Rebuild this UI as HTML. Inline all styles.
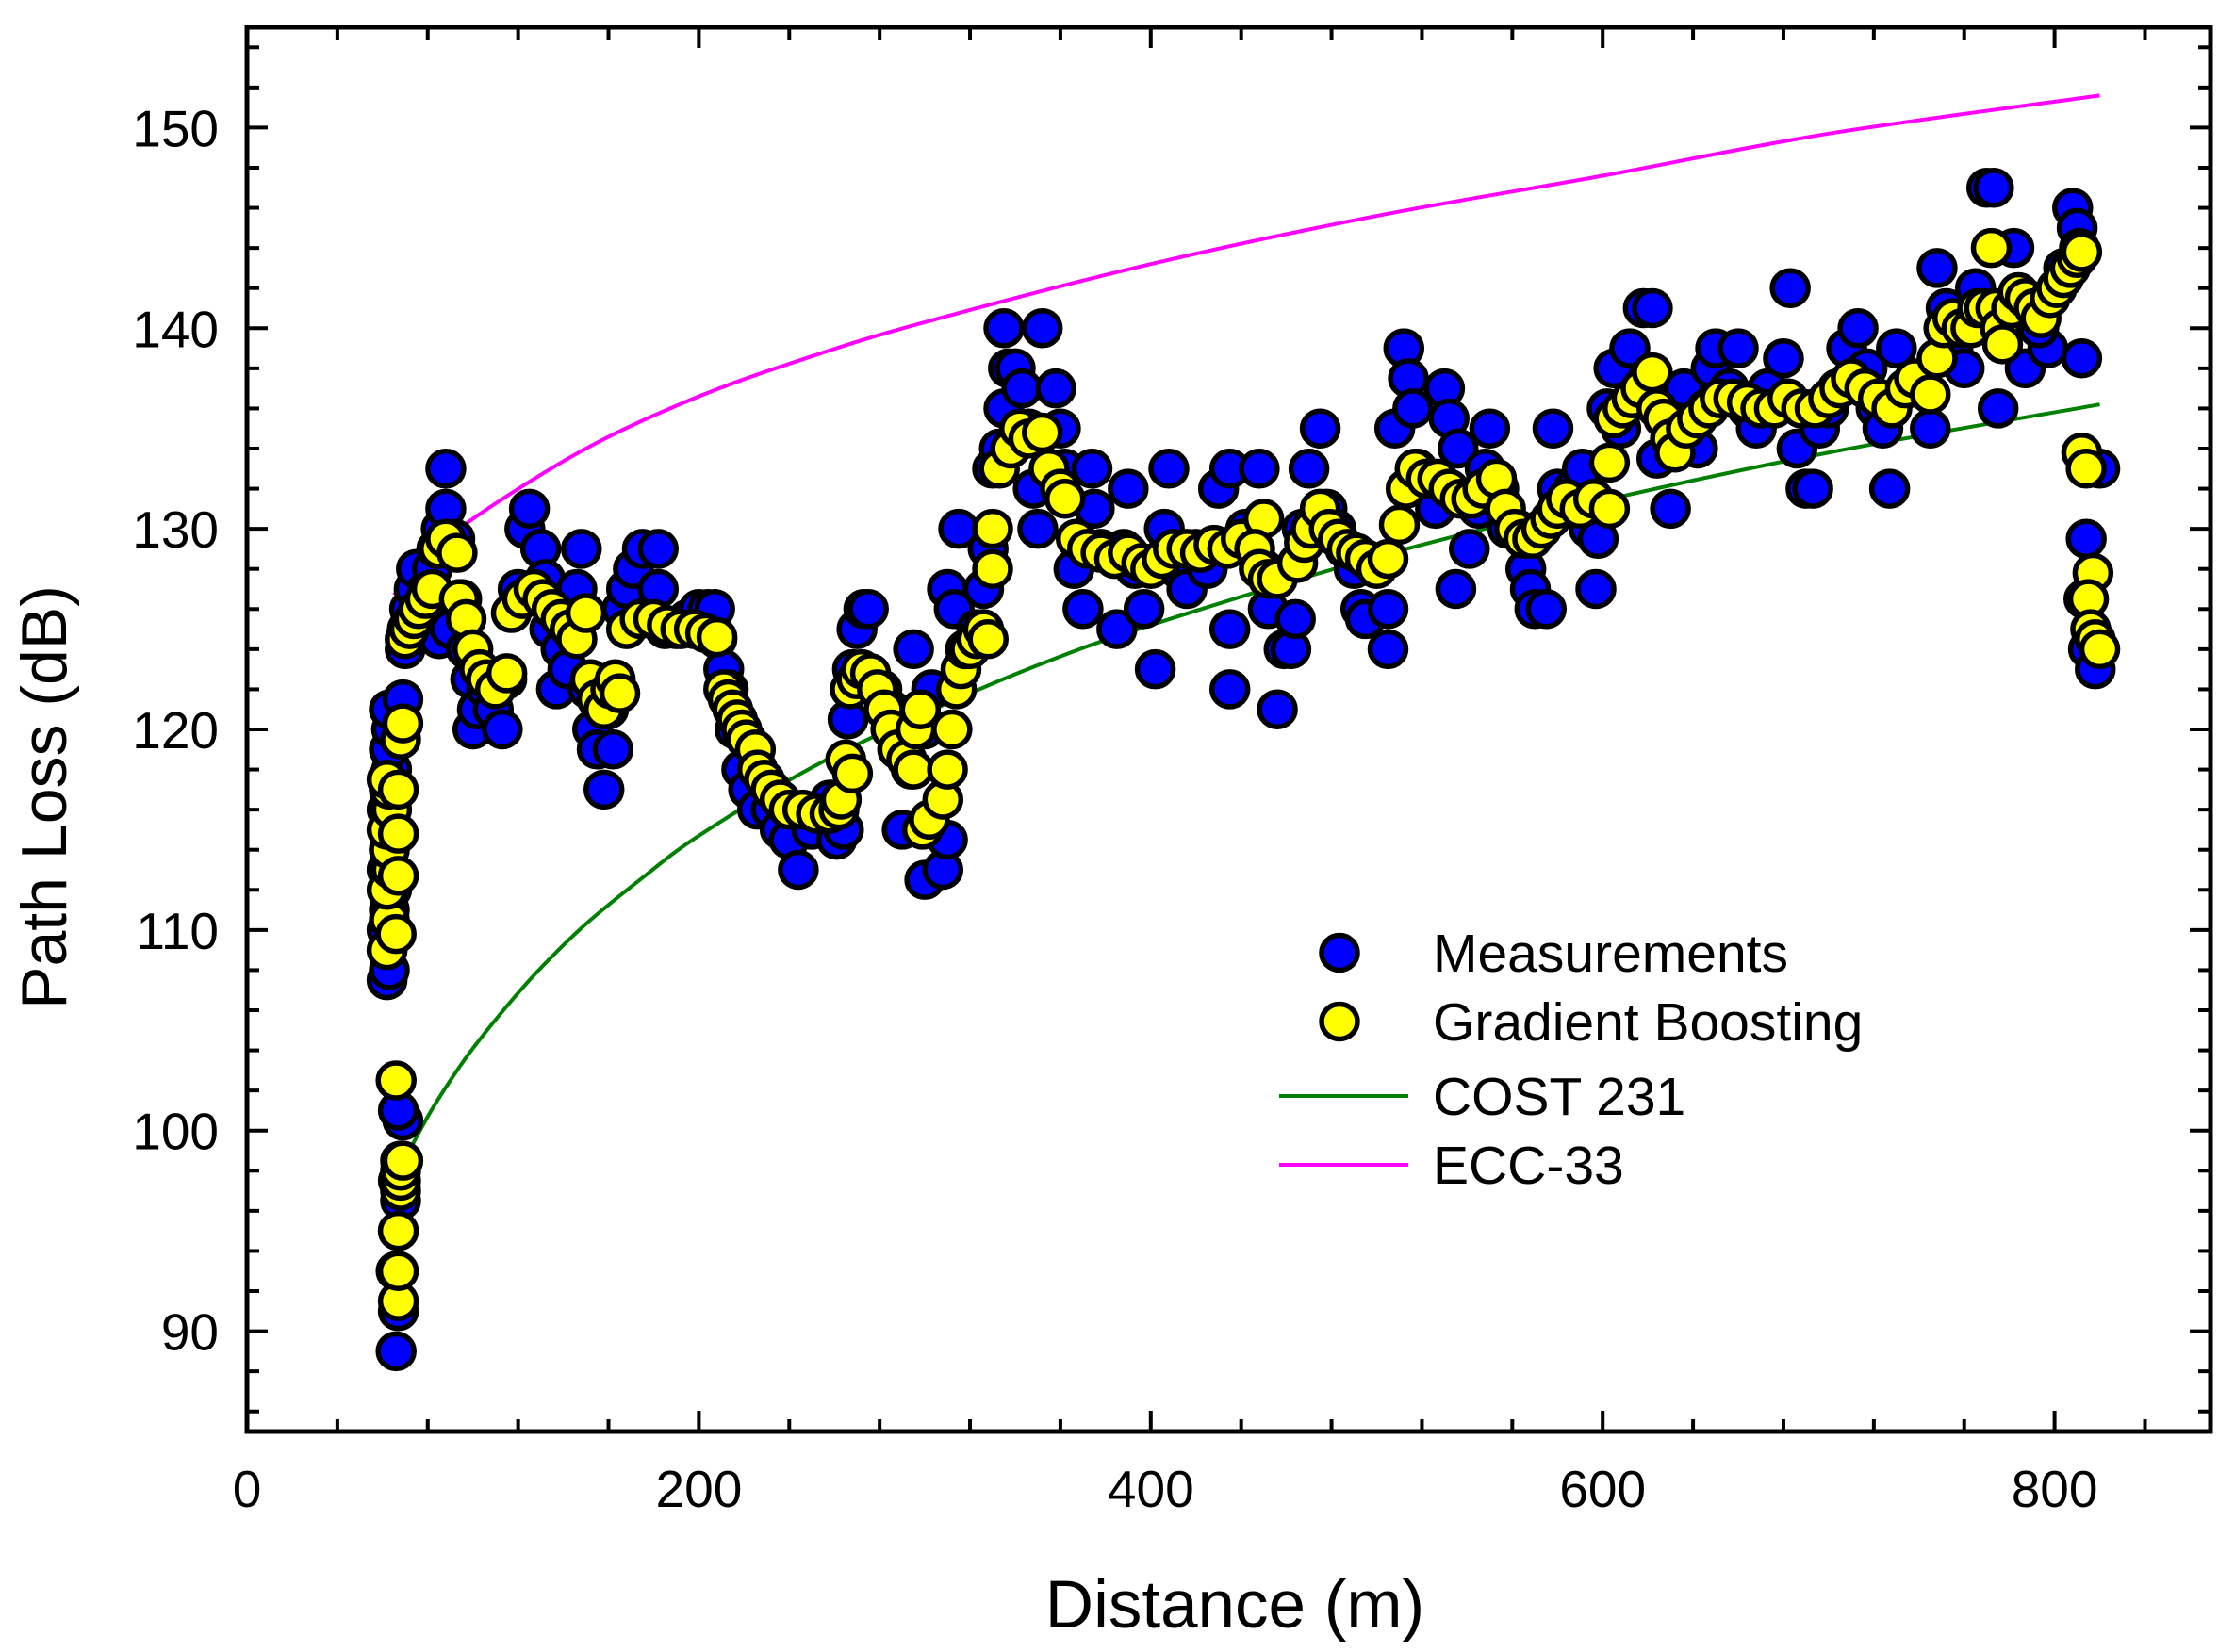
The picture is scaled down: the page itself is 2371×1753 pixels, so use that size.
<!DOCTYPE html>
<html><head><meta charset="utf-8"><style>
html,body{margin:0;padding:0;background:#fff;}
svg{display:block;font-family:"Liberation Sans",Arial,sans-serif;}
</style></head><body>
<svg id="chart" width="2371" height="1753" viewBox="0 0 2371 1753" xmlns="http://www.w3.org/2000/svg">
<rect x="0" y="0" width="2371" height="1753" fill="#fff"/>
<g id="plot"></g>
<g id="axes"></g>
<g id="legend"></g>
</svg>
<script>
const xTicks = [0, 200, 400, 600, 800];
const yTicks = [90, 100, 110, 120, 130, 140, 150];
const meas = [
[62,107.5],[63,108],[62,110],[63,111],[64,112],[62,113],[63,114],[64,115],[62,116],[63,117],[64,118],[63,119],[64,120],[63,121],
[66,89],[67,91],[66,93],[67,95],[68,96.5],[67,97.5],[68,98.5],[69,100.5],[67,101],
[69,121.5],[70,124],[71,125],[72,126],[74,127],[75,128],[78,126],[80,127],[82,128],[84,129],[86,130],[88,131],[88,133],[92,129.5],
[85,124.5],[90,125],[95,126.5],[97,124],[99,122.5],[100,120],[102,121],
[106,122],[109,121],[113,120],[115,122.5],
[120,127],[123,130],[125,131],[130,129],[132,127.5],[134,125],
[137,122],[139,124],[142,123],[144,126.5],[146,127],[148,129],[151,122],[153,120],[155,119],[158,117],[162,119],[160,121],
[166,126],[168,127],[171,128],[175,129],[182,129],[182,127],[185,125],
[190,125],[195,125.5],[200,126],[204,126],[207,126],[208,124.5],
[211,123],[213,122],[216,120],[219,118],[222,117],[226,116],
[232,116],[236,115],[240,114.5],[244,113],[250,115],[255,116],[258,116.5],
[261,114.5],[264,115],[266,120.5],[268,123],[270,125],[273,126],[275,126],
[281,122],[285,121],[288,119],[290,115],[294,118],[300,112.5],[308,113],[310,114.5],
[295,124],[300,120],[303,122],[310,127],[315,130],[313,126],
[320,124],[323,125],[326,127],[328,129],[330,133],
[333,134],[335,136],[337,138],[335,140],[340,138],[343,137],[346,135],[352,140],
[348,132],[350,130],[358,137],[360,135],[362,133],
[366,128],[370,126],[375,131],[374,133],[378,129],
[385,125],[390,132],[388,129],[393,128],[397,126],
[402,123],[408,133],[406,130],[412,128],[416,127],
[420,129],[425,128],[430,132],[435,133],[435,125],[435,122],
[442,130],[448,133],[450,128],[452,126],[456,121],[459,124],
[462,124],[464,125.5],[467,130],[470,133],[475,135],[478,131],
[482,130],[486,129],[490,128],[493,126],[495,125.5],
[505,126],[505,124],[508,135],[512,139],[514,137.5],[516,136],
[518,133],[522,132],[526,131],[530,137],[532,135.5],[536,134],[535,127],
[541,129],[545,131],[548,133],[550,135],[554,132],[558,130],
[562,130],[566,128],[568,127],[570,126],[575,126],[578,135],[580,132],
[583,131],[587,132],[591,133],[594,130],[598,129.5],[597,127],
[602,136],[605,138],[608,135],[612,139],[618,141],[622,141],[620,137],
[624,133.5],[630,131],[632,136],[636,137],[638,135],
[642,134],[646,136],[648,138],[650,139],[660,139],[656,137],
[664,136],[668,135],[673,137],[680,138.5],[683,142],[686,134],[690,132],[693,132],
[696,135],[700,136],[704,137],[708,139],[713,140],[717,138],
[721,136],[724,135],[727,132],[730,139],[735,137],[745,135],[748,143],
[752,141],[755,139],[758,140],[760,138],[765,142],[770,147],[773,147],[775,136],
[782,144],[785,141],[787,138],[797,139],[793,140],
[801,142],[804,143],[808,146],[810,145],[811,144],[812,138.5],[814,129.5],[813,126.5],[815,124],
[820,133],[818,123]
];
const gb = [
[62,109],[63,110.5],[62,112],[64,113],[63,114],[62,115],[64,116],[63,117],[62,117.5],
[67,91.5],[67,93],[67,95],[68,97],[68,97.5],[68,98],[69,98.5],[66,102.5],[66,109.8],[67,112.7],[67,114.8],[67,117],[68,119.5],[69,120.3],
[70,124.5],[72,125],[74,125.5],[76,126],[79,126.5],[82,127],[85,129],[88,129.5],[93,128.8],[94,126.5],[97,125.5],[100,124],
[103,123],[106,122.5],[110,122],[115,122.8],
[117,125.8],[122,126.5],[127,127],[131,126.5],[135,126],[139,125.5],[143,125],[146,124.5],[150,125.8],
[152,122.5],[155,121.5],[158,121],[161,122],[163,122.5],[165,121.8],
[168,125],[174,125.5],[180,125.5],[186,125.2],[192,125],[198,125],[203,124.8],[208,124.6],
[211,122],[213,121.5],[215,121],[217,120.5],[219,120],[221,119.5],[225,119],[226,118],[229,117.5],
[232,117],[236,116.5],[240,116],[246,116],[252,115.8],[258,115.8],[262,116],
[263,116.5],[265,118.5],[268,117.8],[267,122],[270,122.5],[272,123],
[276,122.8],[279,122],[282,121],[285,120],[288,119],[292,118.5],[295,118],[296,120],[298,121],[299,115],[302,115.5],[308,116.5],[310,118],[312,120],[314,122],[316,123],[318,124],
[320,124],[323,124.5],[326,125],[328,124.5],[330,128],[330,130],
[333,133],[338,134],[342,135],[346,134.5],[352,134.8],[355,133],[360,132],[362,131.5],
[367,129.5],[372,129],[378,128.8],[384,128.5],[390,128.8],[396,128.3],[400,128],
[405,128.5],[410,129],[416,129],[422,128.8],[428,129.2],[434,129],[440,129.5],[450,130.5],[446,129],[448,128],
[452,127.5],[456,127.5],[465,128.3],[468,129.3],[471,130],[475,131],
[479,130],[483,129.5],[487,129],[491,128.8],[495,128.5],[500,128],[505,128.5],[510,130.2],
[513,132],[517,133],[522,132.5],[527,132.5],
[532,132],[537,131.5],[542,131.5],[547,132],[553,132.5],[557,131],
[561,130],[565,129.5],[569,129.5],[573,130],[577,130.5],[580,131],
[584,131.5],[590,131],[596,131.5],[603,133.3],[603,131],
[605,135.5],[609,136],[613,136.5],[617,137],[622,137.8],[624,136],
[627,135.5],[630,134.5],[632,133.8],[637,135],[642,135.5],[647,136],
[652,136.5],[658,136.5],[664,136.3],[670,136],[676,136],[682,136.5],[688,136],[694,136],
[700,136.5],[705,137],[710,137.5],[716,137],[722,136.5],[728,136],[734,137],[738,137.5],
[745,136.7],[748,138.5],[751,140],[755,140.5],[759,140],[763,140],[766,141],[769,141],
[772,144],[774,141],[776,140],[777,139.2],[781,141],[784,141.8],[787,141.5],
[791,141],[794,140.5],[798,141.5],[801,142],[804,142.5],[807,143],[810,143.5],[812,143.8],[812,133.8],[814,133],
[817,127.8],[815,126.5],[816,125],[818,124.5],[820,124]
];
const costD = [65, 70, 80, 90, 100, 115, 130, 150, 175, 200, 250, 300, 350, 400, 500, 600, 700, 820];
const costL = [97.5, 98.6, 100.7, 102.5, 104.1, 106.2, 108.1, 110.3, 112.6, 114.7, 118.1, 120.8, 123.2, 125.2, 128.6, 131.4, 133.8, 136.2];
const eccD = [65, 80, 100, 150, 200, 250, 300, 400, 500, 600, 700, 820];
const eccL = [126.7, 128.5, 130.5, 134, 136.6, 138.6, 140.3, 143.2, 145.6, 147.6, 149.7, 151.6];

const NS = "http://www.w3.org/2000/svg";
const L = 262, R = 2345, T = 29, B = 1519;
const xMin = 0, xMax = 869, yMin = 85, yMax = 155;
function sx(v){ return L + (v - xMin) / (xMax - xMin) * (R - L); }
function sy(v){ return B - (v - yMin) / (yMax - yMin) * (B - T); }
function mk(tag, attrs, parent){ const e = document.createElementNS(NS, tag); for (const k in attrs) e.setAttribute(k, attrs[k]); parent.appendChild(e); return e; }

const plot = document.getElementById('plot');
const axes = document.getElementById('axes');
const legend = document.getElementById('legend');

function smoothPath(ds, ls){
  const p = ds.map((d,i)=>[sx(d), sy(ls[i])]);
  let s = 'M' + p[0][0] + ',' + p[0][1];
  for (let i = 0; i < p.length - 1; i++){
    const p0 = p[i-1] || p[i], p1 = p[i], p2 = p[i+1], p3 = p[i+2] || p2;
    const c1 = [p1[0] + (p2[0]-p0[0])/6, p1[1] + (p2[1]-p0[1])/6];
    const c2 = [p2[0] - (p3[0]-p1[0])/6, p2[1] - (p3[1]-p1[1])/6];
    s += 'C' + c1.join(',') + ' ' + c2.join(',') + ' ' + p2.join(',');
  }
  return s;
}

const costLine = mk('path', {d: smoothPath(costD, costL), fill:'none', stroke:'#008000', 'stroke-width':4, 'stroke-linejoin':'round'}, plot);


const eccLine = mk('path', {d: smoothPath(eccD, eccL), fill:'none', stroke:'#ff00ff', 'stroke-width':4, 'stroke-linejoin':'round'}, plot);



meas.forEach(p => {
  const c = mk('ellipse', {cx: sx(p[0]), cy: sy(p[1]), rx: 19, ry: 18.5, fill:'#0000ff', stroke:'#000', 'stroke-width':5.5}, plot);
  
  
});
gb.forEach(p => {
  const c = mk('ellipse', {cx: sx(p[0]), cy: sy(p[1]), rx: 19, ry: 18.5, fill:'#ffff00', stroke:'#000', 'stroke-width':5.5}, plot);
  
  
});

const frame = mk('rect', {x:L, y:T, width:R-L, height:B-T, fill:'none', stroke:'#000', 'stroke-width':5}, axes);



for (let v = 40; v < xMax; v += 40){
  const major = v % 200 === 0;
  const len = major ? 22 : 13;
  const t1 = mk('line', {x1:sx(v), x2:sx(v), y1:B, y2:B-len, stroke:'#000', 'stroke-width':4}, axes);
  
  
  const t2 = mk('line', {x1:sx(v), x2:sx(v), y1:T, y2:T+len, stroke:'#000', 'stroke-width':4}, axes);
  
  
}
for (let v = 86; v < yMax; v += 2){
  const major = v % 10 === 0;
  const len = major ? 22 : 13;
  const t1 = mk('line', {x1:L, x2:L+len, y1:sy(v), y2:sy(v), stroke:'#000', 'stroke-width':4}, axes);
  
  
  const t2 = mk('line', {x1:R, x2:R-len, y1:sy(v), y2:sy(v), stroke:'#000', 'stroke-width':4}, axes);
  
  
}
xTicks.forEach(v => {
  const t = mk('text', {x:sx(v), y:1599, 'font-size':55, 'text-anchor':'middle', fill:'#000'}, axes);
  t.textContent = v;
  
  
});
yTicks.forEach(v => {
  const t = mk('text', {x:232, y:sy(v)+20, 'font-size':55, 'text-anchor':'end', fill:'#000'}, axes);
  t.textContent = v;
  
  
});
const xt = mk('text', {x:1310, y:1727, 'font-size':71, 'text-anchor':'middle', fill:'#000'}, axes);
xt.textContent = 'Distance (m)';


const yt = mk('text', {x:0, y:0, 'font-size':68, 'text-anchor':'middle', fill:'#000', transform:'translate(70,846) rotate(-90)'}, axes);
yt.textContent = 'Path Loss (dB)';



const l1 = mk('ellipse', {cx:1421, cy:1011, rx:19, ry:18.5, fill:'#0000ff', stroke:'#000', 'stroke-width':5.5}, legend);


const l2 = mk('ellipse', {cx:1421, cy:1084, rx:19, ry:18.5, fill:'#ffff00', stroke:'#000', 'stroke-width':5.5}, legend);


const l3 = mk('line', {x1:1357, x2:1494, y1:1163, y2:1163, stroke:'#008000', 'stroke-width':4}, legend);


const l4 = mk('line', {x1:1357, x2:1494, y1:1236, y2:1236, stroke:'#ff00ff', 'stroke-width':4}, legend);


const labels = [['Measurements',1031,'legend-label-measurements'],['Gradient Boosting',1104,'legend-label-gradient-boosting'],['COST 231',1183,'legend-label-cost231'],['ECC-33',1256,'legend-label-ecc33']];
labels.forEach(a => {
  const t = mk('text', {x:1520, y:a[1], 'font-size':57, fill:'#000'}, legend);
  t.textContent = a[0];
  
  
});
</script>
</body></html>
